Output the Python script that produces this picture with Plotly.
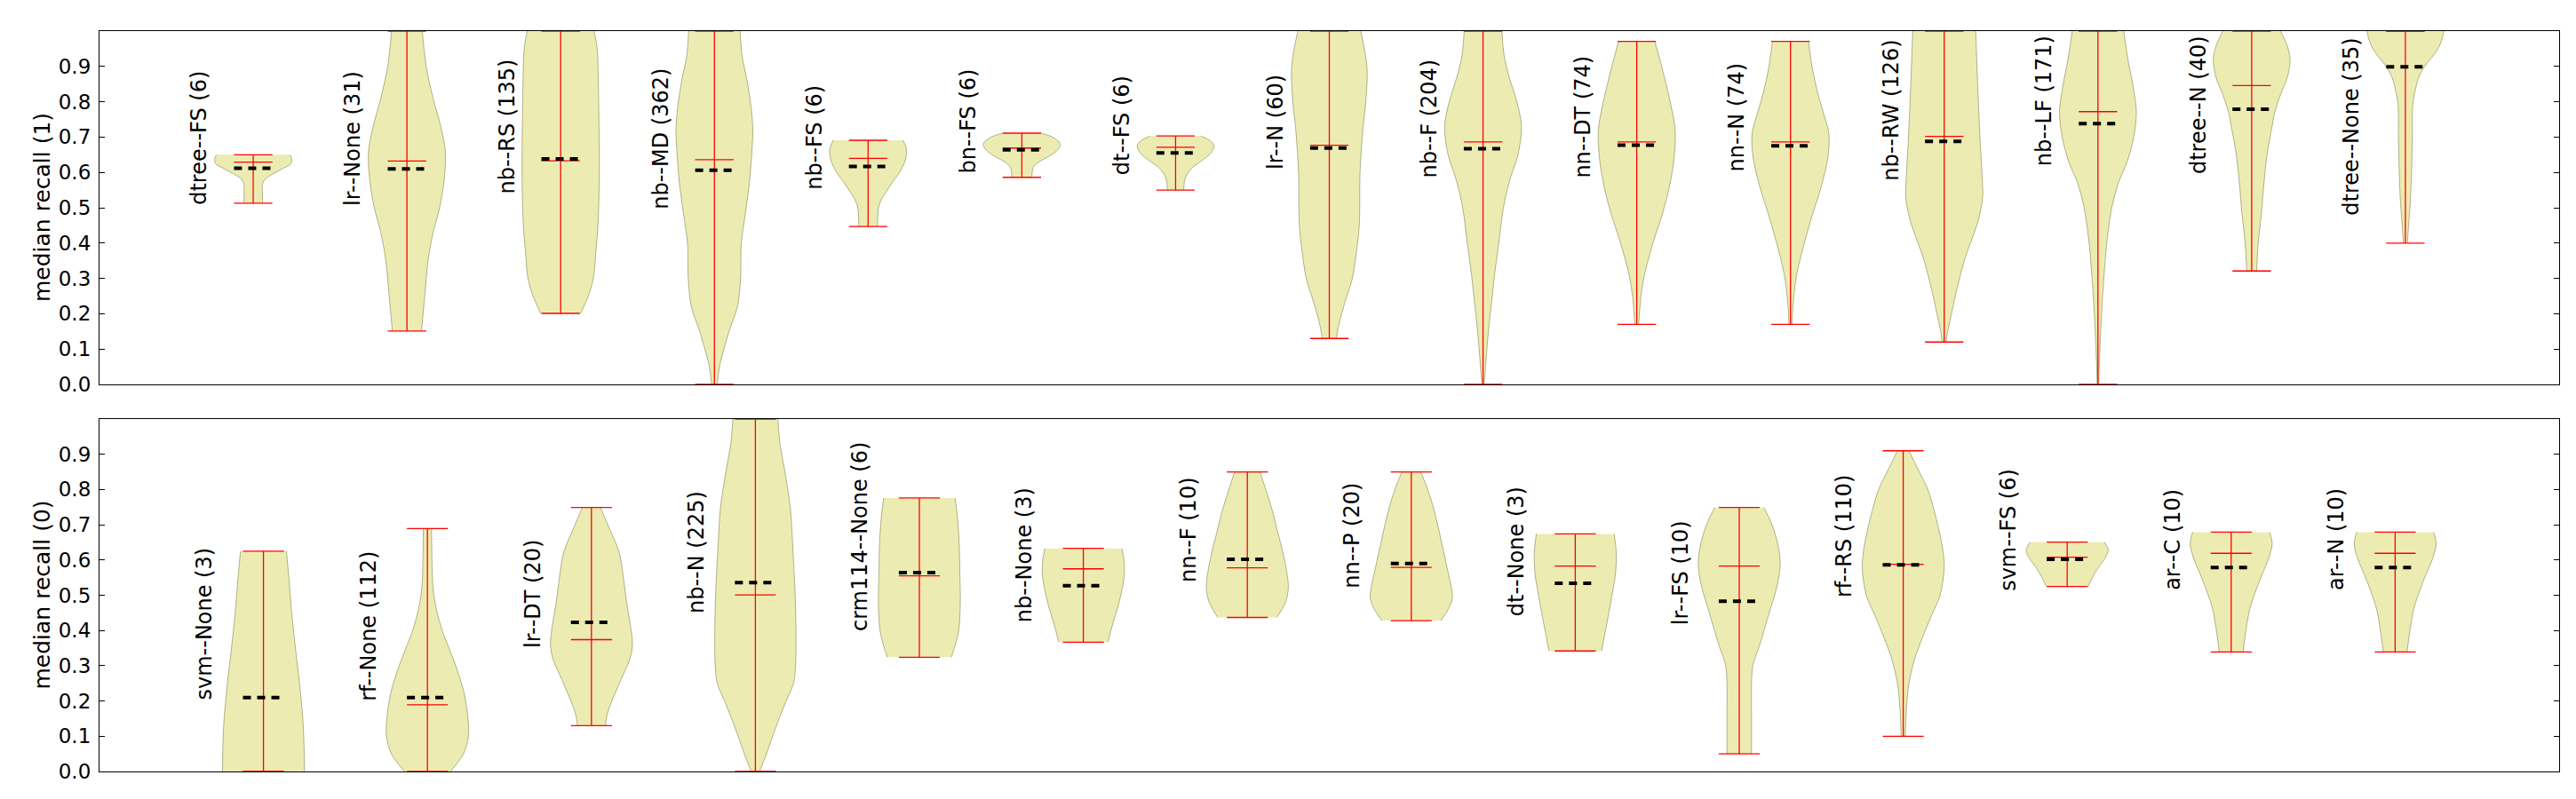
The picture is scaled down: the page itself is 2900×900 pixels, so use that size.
import plotly.graph_objects as go

# ---------------- data ----------------
TOP_LABELS = ["dtree--FS (6)", "lr--None (31)", "nb--RS (135)", "nb--MD (362)", "nb--FS (6)",
              "bn--FS (6)", "dt--FS (6)", "lr--N (60)", "nb--F (204)", "nn--DT (74)",
              "nn--N (74)", "nb--RW (126)", "nb--LF (171)", "dtree--N (40)", "dtree--None (35)"]
TOP_MIN = [0.513, 0.151, 0.201, 0.0, 0.447, 0.586, 0.55, 0.13, 0.0, 0.17, 0.17, 0.12, 0.0, 0.321, 0.40]
TOP_MAX = [0.65, 1.0, 1.0, 1.0, 0.691, 0.711, 0.703, 1.0, 1.0, 0.971, 0.971, 1.0, 1.0, 1.0, 1.0]
TOP_MEDIAN = [0.629, 0.632, 0.633, 0.636, 0.64, 0.669, 0.671, 0.677, 0.686, 0.686, 0.686, 0.702, 0.772, 0.846, 1.0]
TOP_MEAN = [0.612, 0.61, 0.638, 0.606, 0.617, 0.664, 0.655, 0.669, 0.667, 0.677, 0.675, 0.688, 0.738, 0.779, 0.899]

# density profiles: (value, relative half-width)
TOP_PROFILES = [
    [(0.65, 0.95), (0.64, 1.0), (0.625, 0.98), (0.61, 0.75), (0.595, 0.5), (0.58, 0.3), (0.565, 0.24), (0.54, 0.24), (0.513, 0.24)],
    [(1.0, 0.4), (0.9, 0.5), (0.81, 0.68), (0.73, 0.88), (0.66, 1.0), (0.58, 0.97), (0.5, 0.85), (0.43, 0.68), (0.35, 0.55), (0.26, 0.47), (0.151, 0.38)],
    [(1.0, 0.87), (0.95, 0.95), (0.85, 0.98), (0.7, 1.0), (0.55, 1.0), (0.45, 0.97), (0.38, 0.92), (0.3, 0.85), (0.25, 0.72), (0.22, 0.6), (0.201, 0.52)],
    [(1.0, 0.67), (0.93, 0.72), (0.86, 0.85), (0.78, 0.96), (0.72, 1.0), (0.65, 0.97), (0.57, 0.91), (0.48, 0.8), (0.4, 0.7), (0.3, 0.68), (0.22, 0.6), (0.15, 0.38), (0.1, 0.25), (0.06, 0.15), (0.0, 0.07)],
    [(0.691, 0.91), (0.665, 1.0), (0.635, 0.97), (0.6, 0.82), (0.575, 0.65), (0.55, 0.5), (0.52, 0.33), (0.5, 0.27), (0.447, 0.24)],
    [(0.711, 0.5), (0.7, 0.8), (0.685, 0.98), (0.675, 1.0), (0.66, 0.9), (0.645, 0.7), (0.63, 0.45), (0.615, 0.3), (0.586, 0.26)],
    [(0.703, 0.66), (0.69, 0.9), (0.675, 1.0), (0.655, 0.92), (0.633, 0.68), (0.615, 0.45), (0.6, 0.33), (0.58, 0.24), (0.55, 0.21)],
    [(1.0, 0.82), (0.9, 0.98), (0.8, 0.95), (0.73, 0.88), (0.6, 0.8), (0.45, 0.78), (0.37, 0.7), (0.3, 0.6), (0.23, 0.4), (0.17, 0.25), (0.13, 0.18)],
    [(1.0, 0.49), (0.93, 0.55), (0.87, 0.68), (0.8, 0.88), (0.73, 1.0), (0.65, 0.91), (0.58, 0.7), (0.5, 0.53), (0.4, 0.41), (0.31, 0.3), (0.23, 0.22), (0.15, 0.14), (0.07, 0.08), (0.0, 0.03)],
    [(0.971, 0.47), (0.92, 0.6), (0.86, 0.74), (0.8, 0.87), (0.72, 1.0), (0.64, 0.97), (0.56, 0.85), (0.48, 0.66), (0.4, 0.42), (0.31, 0.2), (0.25, 0.11), (0.2, 0.07), (0.17, 0.05)],
    [(0.971, 0.47), (0.9, 0.56), (0.82, 0.72), (0.76, 0.88), (0.71, 1.0), (0.64, 0.97), (0.56, 0.8), (0.48, 0.57), (0.4, 0.36), (0.31, 0.16), (0.23, 0.07), (0.17, 0.04)],
    [(1.0, 0.82), (0.85, 0.87), (0.7, 0.93), (0.6, 0.98), (0.53, 1.0), (0.47, 0.9), (0.42, 0.75), (0.36, 0.55), (0.27, 0.33), (0.19, 0.17), (0.15, 0.09), (0.12, 0.05)],
    [(1.0, 0.67), (0.92, 0.78), (0.84, 0.92), (0.77, 1.0), (0.7, 0.93), (0.63, 0.76), (0.57, 0.53), (0.5, 0.36), (0.4, 0.23), (0.31, 0.16), (0.23, 0.11), (0.15, 0.07), (0.07, 0.04), (0.0, 0.02)],
    [(1.0, 0.75), (0.96, 0.92), (0.92, 1.0), (0.87, 0.93), (0.82, 0.75), (0.77, 0.6), (0.73, 0.53), (0.65, 0.4), (0.57, 0.32), (0.48, 0.25), (0.4, 0.17), (0.321, 0.13)],
    [(1.0, 1.0), (0.97, 0.93), (0.94, 0.79), (0.9, 0.5), (0.87, 0.35), (0.83, 0.25), (0.79, 0.19), (0.7, 0.18), (0.6, 0.16), (0.52, 0.13), (0.46, 0.09), (0.40, 0.05)],
]
TOP_LABEL_Y = [0.503, 0.499, 0.533, 0.491, 0.545, 0.591, 0.587, 0.604, 0.579, 0.579, 0.596, 0.570, 0.612, 0.591, 0.474]

BOT_LABELS = ["svm--None (3)", "rf--None (112)", "lr--DT (20)", "nb--N (225)", "crm114--None (6)",
              "nb--None (3)", "nn--F (10)", "nn--P (20)", "dt--None (3)", "lr--FS (10)",
              "rf--RS (110)", "svm--FS (6)", "ar--C (10)", "ar--N (10)"]
BOT_MIN = [0.0, 0.0, 0.13, 0.0, 0.324, 0.367, 0.437, 0.428, 0.342, 0.05, 0.1, 0.525, 0.339, 0.339]
BOT_MAX = [0.625, 0.689, 0.749, 1.0, 0.776, 0.633, 0.85, 0.85, 0.674, 0.749, 0.91, 0.651, 0.679, 0.679]
BOT_MEDIAN = [0.0, 0.189, 0.374, 0.501, 0.555, 0.575, 0.578, 0.579, 0.583, 0.583, 0.588, 0.608, 0.619, 0.619]
BOT_MEAN = [0.21, 0.21, 0.423, 0.536, 0.564, 0.527, 0.602, 0.59, 0.534, 0.483, 0.586, 0.602, 0.579, 0.579]
BOT_PROFILES = [
    [(0.625, 0.56), (0.55, 0.62), (0.45, 0.69), (0.35, 0.78), (0.25, 0.88), (0.15, 0.96), (0.07, 0.99), (0.0, 1.0)],
    [(0.689, 0.1), (0.6, 0.11), (0.53, 0.13), (0.47, 0.2), (0.4, 0.36), (0.34, 0.56), (0.28, 0.75), (0.22, 0.9), (0.15, 0.99), (0.1, 1.0), (0.05, 0.88), (0.0, 0.56)],
    [(0.749, 0.22), (0.7, 0.4), (0.62, 0.68), (0.55, 0.78), (0.48, 0.86), (0.4, 0.97), (0.36, 1.0), (0.32, 0.94), (0.26, 0.72), (0.2, 0.5), (0.16, 0.38), (0.13, 0.34)],
    [(1.0, 0.55), (0.93, 0.6), (0.85, 0.72), (0.75, 0.85), (0.62, 0.92), (0.5, 0.97), (0.4, 0.99), (0.3, 0.98), (0.25, 0.93), (0.2, 0.75), (0.15, 0.58), (0.1, 0.42), (0.05, 0.27), (0.0, 0.1)],
    [(0.776, 0.87), (0.72, 0.93), (0.65, 0.97), (0.55, 0.99), (0.48, 1.0), (0.4, 0.96), (0.36, 0.88), (0.324, 0.78)],
    [(0.633, 0.94), (0.6, 0.99), (0.56, 1.0), (0.52, 0.95), (0.47, 0.85), (0.42, 0.72), (0.367, 0.6)],
    [(0.85, 0.31), (0.8, 0.45), (0.74, 0.61), (0.68, 0.74), (0.62, 0.87), (0.56, 0.97), (0.52, 1.0), (0.48, 0.93), (0.437, 0.72)],
    [(0.85, 0.23), (0.8, 0.4), (0.74, 0.56), (0.66, 0.72), (0.58, 0.87), (0.52, 0.98), (0.49, 1.0), (0.46, 0.9), (0.428, 0.72)],
    [(0.674, 0.95), (0.62, 1.0), (0.56, 0.98), (0.49, 0.88), (0.42, 0.77), (0.342, 0.64)],
    [(0.749, 0.6), (0.7, 0.8), (0.64, 0.95), (0.59, 1.0), (0.53, 0.93), (0.45, 0.73), (0.36, 0.5), (0.3, 0.33), (0.25, 0.3), (0.15, 0.3), (0.05, 0.3)],
    [(0.91, 0.14), (0.86, 0.35), (0.8, 0.6), (0.72, 0.8), (0.64, 0.95), (0.58, 1.0), (0.5, 0.9), (0.44, 0.68), (0.38, 0.47), (0.32, 0.28), (0.25, 0.14), (0.18, 0.08), (0.1, 0.05)],
    [(0.651, 0.9), (0.63, 1.0), (0.61, 0.95), (0.585, 0.8), (0.56, 0.66), (0.525, 0.51)],
    [(0.679, 0.94), (0.645, 1.0), (0.6, 0.9), (0.55, 0.72), (0.5, 0.56), (0.46, 0.45), (0.4, 0.36), (0.339, 0.29)],
    [(0.679, 0.94), (0.645, 1.0), (0.6, 0.9), (0.55, 0.72), (0.5, 0.56), (0.46, 0.45), (0.4, 0.36), (0.339, 0.29)],
]
BOT_LABEL_Y = [0.198, 0.195, 0.346, 0.443, 0.393, 0.418, 0.531, 0.514, 0.435, 0.409, 0.489, 0.506, 0.51, 0.51]

Y_TICKS = [0.0, 0.1, 0.2, 0.3, 0.4, 0.5, 0.6, 0.7, 0.8, 0.9]
Y_TITLES = ["median recall (1)", "median recall (0)"]

# ---------------- styles ----------------
FONT = "DejaVu Sans"
FILL = "rgba(191,191,0,0.3)"
EDGE = "rgba(120,120,70,0.55)"
RED = "#ff0000"
HALF = 0.25      # half of violin width (width 0.5)
CAP = 0.125      # half cap length

W, H = 2900, 900
ML, MR, MT, MB = 104, 27, 27, 39
PH = H - MT - MB
TOP_DOM = [(861 - 425) / PH, 1.0]
BOT_DOM = [0.0, (861 - 464) / PH]

fig = go.Figure()


def add_panel(xa, ya, labels, mins, maxs, meds, means, profiles, label_y, lab_off):
    for i, prof in enumerate(profiles):
        pos = i + 1
        ys = [p[0] for p in prof]
        ws = [p[1] for p in prof]
        fig.add_trace(go.Scatter(
            x=[pos - HALF * w for w in ws], y=ys, xaxis=xa, yaxis=ya, mode="lines",
            line=dict(color=EDGE, width=1, shape="spline", smoothing=0.9),
            hoverinfo="skip", showlegend=False))
        fig.add_trace(go.Scatter(
            x=[pos + HALF * w for w in ws], y=ys, xaxis=xa, yaxis=ya, mode="lines",
            fill="tonextx", fillcolor=FILL,
            line=dict(color=EDGE, width=1, shape="spline", smoothing=0.9),
            hoverinfo="skip", showlegend=False))
    rx, ry = [], []
    for i in range(len(labels)):
        pos = i + 1
        rx += [pos, pos, None]
        ry += [mins[i], maxs[i], None]
        for v in (mins[i], maxs[i], meds[i]):
            rx += [pos - CAP, pos + CAP, None]
            ry += [v, v, None]
    fig.add_trace(go.Scatter(x=rx, y=ry, xaxis=xa, yaxis=ya, mode="lines",
                             line=dict(color=RED, width=1.3), hoverinfo="skip", showlegend=False))
    bx, by = [], []
    for i in range(len(labels)):
        pos = i + 1
        bx += [pos - CAP, pos + CAP, None]
        by += [means[i], means[i], None]
    fig.add_trace(go.Scatter(x=bx, y=by, xaxis=xa, yaxis=ya, mode="lines",
                             line=dict(color="black", width=4, dash="9px,7px"),
                             hoverinfo="skip", showlegend=False))
    for i, lab in enumerate(labels):
        fig.add_annotation(x=i + 1 - lab_off, y=label_y[i], xref=xa, yref=ya,
                           text=lab, showarrow=False, textangle=-90,
                           xanchor="center", yanchor="bottom",
                           font=dict(family=FONT, size=24, color="black"))


add_panel("x", "y", TOP_LABELS, TOP_MIN, TOP_MAX, TOP_MEDIAN, TOP_MEAN, TOP_PROFILES, TOP_LABEL_Y, 0.35)
add_panel("x2", "y2", BOT_LABELS, BOT_MIN, BOT_MAX, BOT_MEDIAN, BOT_MEAN, BOT_PROFILES, BOT_LABEL_Y, 0.36)

for ya, title in zip(["y", "y2"], Y_TITLES):
    fig.add_annotation(x=-(104 - 39) / (W - ML - MR), y=0.5, xref="paper", yref=ya,
                       text=title, showarrow=False, textangle=-90,
                       xanchor="center", yanchor="middle",
                       font=dict(family=FONT, size=25, color="black"))

xcommon = dict(showgrid=False, zeroline=False, showticklabels=False, ticks="",
               showline=True, linecolor="black", linewidth=1.2, mirror=True)
ycommon = dict(showgrid=False, zeroline=False, range=[0, 1], tickvals=Y_TICKS,
               ticktext=[f"{v:.1f}" for v in Y_TICKS], ticks="inside", ticklen=6,
               tickcolor="black", tickwidth=1, showline=True, linecolor="black",
               linewidth=1.2, mirror="ticks", ticklabelstandoff=4,
               tickfont=dict(family=FONT, size=23, color="black"))

fig.update_layout(
    width=W, height=H,
    margin=dict(l=ML, r=MR, t=MT, b=MB),
    paper_bgcolor="white", plot_bgcolor="white",
    showlegend=False,
    xaxis=dict(domain=[0, 1], range=[0, 16], anchor="y", **xcommon),
    yaxis=dict(domain=TOP_DOM, anchor="x", **ycommon),
    xaxis2=dict(domain=[0, 1], range=[0, 15], anchor="y2", **xcommon),
    yaxis2=dict(domain=BOT_DOM, anchor="x2", **ycommon),
)

fig.write_html("out.html")
